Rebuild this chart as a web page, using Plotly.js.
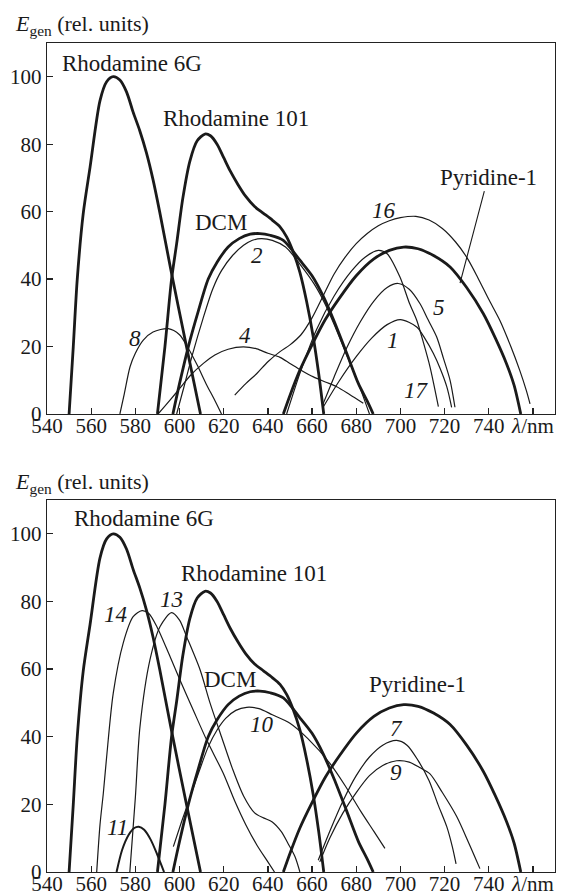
<!DOCTYPE html>
<html>
<head>
<meta charset="utf-8">
<script src="https://cdn.plot.ly/plotly-3.0.1.min.js"></script>
<style>
html,body{margin:0;padding:0;background:#fff;}
#chart{width:561px;height:896px;}
svg text{font-family:"Liberation Serif","Times New Roman",Times,serif !important;}
</style>
</head>
<body>
<div id="chart"></div>
<script>
// ---------- data (wavelength nm, relative generation energy) ----------
const lamRh6G = [550, 551.9, 553.7, 556.4, 559.5, 564, 567, 570, 573, 576, 579, 582, 585, 588, 591, 596, 603, 609.5];
const valRh6G = [0, 20, 40, 59.4, 73.2, 92.9, 98.5, 100, 99, 95.5, 89.5, 84, 77.5, 69.5, 60, 43, 20.5, 0];

const lamRh101 = [590, 593.4, 596.4, 598.7, 601.5, 604.7, 608, 611.5, 614, 617, 620, 623, 626.5, 630, 634, 638, 642, 645.5, 648.5, 651.5, 654.5, 657.5, 660.5, 663, 665.3];
const valRh101 = [0, 20, 40, 50.5, 64, 75, 81, 83, 82.5, 80, 76, 72, 68, 64.5, 61.5, 59.5, 57.5, 55.5, 52.5, 48, 42, 33.5, 23, 12, 0];

const lamDCM = [597, 600, 604, 608.5, 613, 617, 622, 627, 632, 636.4, 641, 647, 654.5, 660, 665, 670, 675.7, 681, 685, 687.7];
const valDCM = [0, 9, 20, 30.5, 40, 45, 49.5, 52, 53.3, 53.5, 53, 51.5, 45.6, 41, 35, 27.5, 18, 9, 3.8, 0];

const lamPyr = [647, 650, 654.5, 660, 666, 672, 680, 688, 695, 701.5, 708, 715, 722.5, 730, 737.5, 743, 748, 751.5, 754.5];
const valPyr = [0, 5.5, 13, 20.5, 28, 34, 41, 46, 48.5, 49.5, 49, 47, 43.6, 37.5, 29.8, 22.5, 15, 8.5, 0];

// top panel thin curves
const lam2 = [598.7, 602, 606, 610.5, 615, 619, 624, 629, 633, 637, 642, 648, 655, 661, 666, 671, 676, 681, 686];
const val2 = [0, 8, 18, 28, 37, 42.5, 47, 50, 51.5, 52, 51.5, 49.5, 44, 38.5, 32.5, 25, 17, 9, 0];

const lam4 = [590.3, 595.7, 600, 605, 610.8, 616, 622, 628.9, 635, 640, 645.5, 650, 655, 660.6, 666, 671.2, 677, 683.2];
const val4 = [0, 4.1, 7.5, 11.5, 15, 17.5, 19.2, 19.9, 19.3, 18, 16.8, 15, 13, 11, 9.5, 8.1, 5.8, 3.2];

const lam8 = [573, 575, 577.6, 580, 583.6, 588, 594.9, 600, 603.5, 608, 612, 616, 619];
const val8 = [0, 6, 14, 18, 21.9, 24.3, 25.3, 23.5, 20, 14.5, 9, 4, 0];

const lam16 = [625, 630, 635, 640, 645.5, 650, 655, 660, 665, 670, 675, 680, 685, 690, 695, 700, 707, 713, 719, 725, 730, 735, 740, 745, 750, 754, 757, 758.7];
const val16 = [5.6, 9, 12, 15.5, 18.5, 20.5, 23.5, 28.5, 35, 41.5, 46.5, 50.5, 53.5, 55.8, 57.3, 58.2, 58.6, 57.5, 55, 51, 46.5, 40.5, 34, 27.8, 20, 13, 7, 3];

const lam17 = [648.5, 655, 662, 670, 678, 684, 690, 694, 699.8, 704, 707.4, 710.5, 713.4, 717.2];
const val17 = [0, 13, 25, 35, 42.5, 46.5, 48.5, 47.5, 40.6, 33, 27.8, 21, 14, 2.2];

const lam5 = [665, 670, 676, 682, 688, 694, 699, 704, 708.9, 712.5, 716.4, 719.5, 722.5, 724.7];
const val5 = [3, 11, 20, 27.5, 33.5, 37.5, 38.7, 37, 32.7, 28, 22.9, 16.5, 10, 2];

const lam1 = [665, 672, 680, 687, 694, 700, 707.4, 711, 714.9, 718, 721, 723.2];
const val1 = [2, 9.5, 17, 22.5, 26.5, 28, 25.8, 22.5, 18, 13.5, 8.1, 2];

// bottom panel thin curves
const lam14 = [562.5, 564, 565.5, 567, 570, 574.5, 579, 583, 586, 589.7, 595.7, 600.2, 606.2, 612.3, 619.8, 625, 630, 635, 640, 643];
const val14 = [0, 14, 23.3, 34, 52.9, 67.7, 75.5, 77.3, 76.5, 72.6, 63.7, 56.8, 47.9, 39, 29.2, 21, 14, 8, 3, 0];

const lam13 = [577.5, 580, 582.1, 586.6, 591.2, 596.4, 600, 603.2, 609.3, 613.8, 619, 624, 629, 634, 638, 642, 646, 649.5, 652.3, 654.5];
const val13 = [0, 22, 43, 62.7, 72.6, 76.7, 74.5, 69.6, 59.8, 50, 40, 30.5, 22.5, 17.5, 16, 14.8, 12, 8, 4.5, 0];

const lam10 = [597.2, 601, 605, 609, 613, 617, 621, 625.5, 630.4, 636, 642, 650, 658, 668, 675, 682, 688, 693];
const val10 = [7.5, 15, 22.5, 30, 37, 42, 45.5, 47.8, 48.7, 48.3, 46.5, 44, 39.5, 32.2, 25.5, 18, 12, 7];

const lam11 = [571.5, 574, 577, 579.5, 581.5, 584, 587, 590, 593];
const val11 = [0, 6.5, 11, 13, 13.4, 12.5, 9.5, 5, 0];

const lam7 = [662.8, 668, 674, 680, 686, 692, 698.3, 703, 708, 713, 717, 721, 723.5, 725.2];
const val7 = [3.5, 12, 21, 28.5, 34, 37.5, 38.9, 37.5, 33, 27, 20, 13.4, 7.5, 2.4];

const lam9 = [663.5, 668, 674, 680, 686, 692, 698.3, 704, 709, 713.4, 719, 725.5, 731, 736];
const val9 = [3, 10, 17.5, 23.5, 28.5, 31.5, 32.9, 32.5, 30.8, 29, 23.5, 16.4, 8.5, 1];

// axes ticks
const xTickVals = [540, 560, 580, 600, 620, 640, 660, 680, 700, 720, 740, 760];
const xTickText = ['540', '560', '580', '600', '620', '640', '660', '680', '700', '720', '740', '<i>λ</i>/nm'];
const yTickVals = [0, 20, 40, 60, 80, 100];

// label texts and anchors [text, lambda, value, italic]
const topLabels = [
  ['Rhodamine 6G', 578.6, 103.8, false],
  ['Rhodamine 101', 625.7, 87.5, false],
  ['DCM', 618.9, 56.9, false],
  ['2', 635.1, 47, true],
  ['4', 629.8, 23.4, true],
  ['8', 580, 22.4, true],
  ['16', 692.4, 60.4, true],
  ['5', 717.7, 31.6, true],
  ['1', 696.7, 21.9, true],
  ['17', 707.5, 6.9, true]
];
const bottomLabels = [
  ['Rhodamine 6G', 583.7, 104.4, false],
  ['Rhodamine 101', 633.7, 88.2, false],
  ['14', 571, 76, true],
  ['13', 596.3, 80.5, true],
  ['DCM', 623, 56.8, false],
  ['10', 637.5, 43.5, true],
  ['11', 571.9, 13.3, true],
  ['Pyridine-1', 707.6, 55.3, false],
  ['7', 698.1, 42.3, true],
  ['9', 698.1, 29.3, true]
];
// leader line target on the Pyridine-1 curve (top panel)
const pyrLeaderPoint = [727, 38.8];

// ---------- build ----------
const INK = '#1a1a1a';
const THICK = 2.8, THIN = 1.2, MED = 2.0;
function tr(x, y, w, panel) {
  return {
    x: x, y: y, type: 'scatter', mode: 'lines',
    line: {color: INK, width: w, shape: 'spline', smoothing: 0.8},
    xaxis: panel === 1 ? 'x' : 'x2', yaxis: panel === 1 ? 'y' : 'y2',
    hoverinfo: 'skip', showlegend: false
  };
}
const data = [
  tr(lamRh6G, valRh6G, THICK, 1), tr(lamRh101, valRh101, THICK, 1), tr(lamDCM, valDCM, THICK, 1), tr(lamPyr, valPyr, THICK, 1),
  tr(lam2, val2, THIN, 1), tr(lam4, val4, THIN, 1), tr(lam8, val8, THIN, 1), tr(lam16, val16, THIN, 1),
  tr(lam17, val17, THIN, 1), tr(lam5, val5, THIN, 1), tr(lam1, val1, THIN, 1),
  tr(lamRh6G, valRh6G, THICK, 2), tr(lamRh101, valRh101, THICK, 2), tr(lamDCM, valDCM, THICK, 2), tr(lamPyr, valPyr, THICK, 2),
  tr(lam14, val14, THIN, 2), tr(lam13, val13, THIN, 2), tr(lam10, val10, THIN, 2), tr(lam11, val11, MED, 2),
  tr(lam7, val7, THIN, 2), tr(lam9, val9, THIN, 2)
];

const FONT = '"Liberation Serif", "Times New Roman", Times, serif';
const annotations = [];
function addLabels(list, xr, yr) {
  list.forEach(function (l) {
    annotations.push({
      text: l[3] ? '<i>' + l[0] + '</i>' : l[0], x: l[1], y: l[2], xref: xr, yref: yr,
      showarrow: false, xanchor: 'center', yanchor: 'middle',
      font: {family: FONT, size: 23, color: INK}
    });
  });
}
addLabels(topLabels, 'x', 'y');
addLabels(bottomLabels, 'x2', 'y2');
annotations.push({
  text: 'Pyridine-1', x: pyrLeaderPoint[0], y: pyrLeaderPoint[1], xref: 'x', yref: 'y',
  showarrow: true, arrowhead: 0, arrowwidth: 1.1, arrowcolor: INK, ax: 28, ay: -106,
  font: {family: FONT, size: 23, color: INK}
});
[1.0217, 0.4692].forEach(function (yy) {
  annotations.push({
    text: '<i>E</i><sub>gen</sub> (rel. units)', xref: 'paper', yref: 'paper',
    x: -0.067, y: yy, xanchor: 'left', yanchor: 'middle', showarrow: false,
    font: {family: FONT, size: 22, color: INK}
  });
});

function xax(anchor) {
  return {
    range: [540, 770], anchor: anchor, showgrid: false, zeroline: false,
    showline: true, mirror: true, linecolor: '#222', linewidth: 1.4,
    ticks: 'inside', ticklen: 6, tickwidth: 1.3, tickcolor: '#222',
    tickmode: 'array', tickvals: xTickVals, ticktext: xTickText,
    ticklabelstandoff: -8,
    tickfont: {family: FONT, size: 21, color: INK}
  };
}
function yax(anchor, domain) {
  return {
    range: [0, 110], anchor: anchor, domain: domain, showgrid: false, zeroline: false,
    showline: true, mirror: true, linecolor: '#222', linewidth: 1.4,
    ticks: 'inside', ticklen: 6, tickwidth: 1.3, tickcolor: '#222',
    tickmode: 'array', tickvals: yTickVals,
    tickfont: {family: FONT, size: 21, color: INK}
  };
}

const layout = {
  width: 561, height: 896,
  margin: {l: 47, r: 6, t: 43, b: 24},
  paper_bgcolor: '#fff', plot_bgcolor: '#fff',
  font: {family: FONT, color: INK},
  xaxis: xax('y'), yaxis: yax('x', [0.55247, 1]),
  xaxis2: xax('y2'), yaxis2: yax('x2', [0, 0.44873]),
  annotations: annotations,
  showlegend: false
};

Plotly.newPlot('chart', data, layout, {displayModeBar: false, staticPlot: true});
</script>
</body>
</html>
